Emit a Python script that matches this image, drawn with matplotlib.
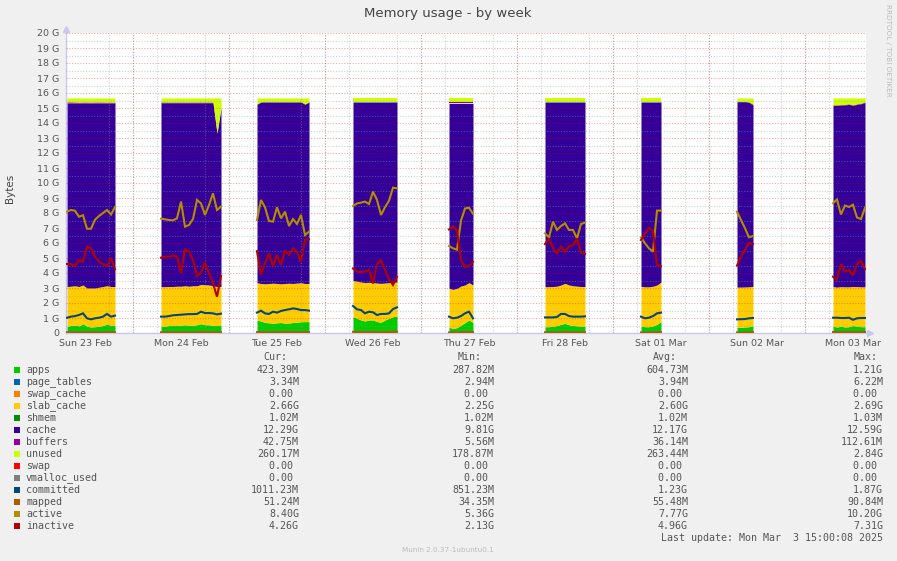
import matplotlib
matplotlib.use("Agg")
import matplotlib.pyplot as plt
import matplotlib.dates as mdates
from matplotlib.patches import Rectangle
import pandas as pd
import numpy as np

W, H = 897, 561

# ---------------- data (GB) ----------------
block_starts = ["2025-02-23 07:30", "2025-02-24 07:00", "2025-02-25 07:00",
                "2025-02-26 07:00", "2025-02-27 07:00", "2025-02-28 07:00",
                "2025-03-01 07:00", "2025-03-02 07:00", "2025-03-03 07:00"]
sample_hours = 1.0

apps = [
    [0.45, 0.50, 0.52, 0.48, 0.62, 0.45, 0.40, 0.42, 0.45, 0.50, 0.60, 0.50, 0.50],
    [0.45, 0.45, 0.50, 0.50, 0.50, 0.52, 0.55, 0.52, 0.52, 0.55, 0.62, 0.55, 0.55, 0.50, 0.50, 0.50],
    [0.85, 0.80, 0.70, 0.68, 0.65, 0.68, 0.70, 0.65, 0.66, 0.70, 0.72, 0.75, 0.76, 0.76],
    [1.09, 0.98, 0.87, 0.80, 0.87, 0.87, 0.76, 0.72, 0.87, 0.98, 1.09, 1.13],
    [0.38, 0.31, 0.36, 0.53, 0.69, 0.87, 0.70],
    [0.42, 0.42, 0.45, 0.50, 0.58, 0.64, 0.55, 0.50, 0.48, 0.45, 0.45],
    [0.45, 0.42, 0.42, 0.47, 0.58, 0.76],
    [0.38, 0.38, 0.40, 0.42, 0.47],
    [0.45, 0.40, 0.45, 0.40, 0.42, 0.50, 0.45, 0.42, 0.42],
]
slab_cache = [
    [2.65, 2.62, 2.63, 2.62, 2.58, 2.55, 2.60, 2.58, 2.60, 2.60, 2.55, 2.60, 2.60],
    [2.64, 2.64, 2.60, 2.60, 2.62, 2.60, 2.60, 2.60, 2.63, 2.60, 2.62, 2.67, 2.65, 2.65, 2.60, 2.60],
    [2.50, 2.50, 2.58, 2.62, 2.67, 2.62, 2.58, 2.65, 2.66, 2.60, 2.61, 2.60, 2.54, 2.54],
    [2.41, 2.47, 2.53, 2.56, 2.51, 2.49, 2.57, 2.59, 2.46, 2.38, 2.29, 2.27],
    [2.60, 2.60, 2.62, 2.60, 2.51, 2.49, 2.50],
    [2.67, 2.67, 2.65, 2.62, 2.62, 2.67, 2.65, 2.65, 2.64, 2.65, 2.65],
    [2.66, 2.66, 2.66, 2.65, 2.62, 2.64],
    [2.68, 2.68, 2.67, 2.66, 2.64],
    [2.64, 2.66, 2.64, 2.68, 2.66, 2.60, 2.64, 2.66, 2.66],
]
cache = [
    [12.23, 12.21, 12.18, 12.23, 12.13, 12.33, 12.33, 12.33, 12.28, 12.23, 12.18, 12.23, 12.23],
    [12.26, 12.26, 12.25, 12.25, 12.23, 12.23, 12.20, 12.23, 12.20, 12.20, 12.11, 12.13, 12.15, 12.20, 10.20, 11.90],
    [11.90, 12.10, 12.12, 12.10, 12.08, 12.10, 12.12, 12.10, 12.08, 12.10, 12.07, 12.05, 11.95, 12.10],
    [11.90, 11.95, 12.00, 12.04, 12.02, 12.04, 12.07, 12.09, 12.07, 12.04, 12.02, 12.00],
    [12.33, 12.40, 12.33, 12.18, 12.11, 11.95, 12.11],
    [12.31, 12.31, 12.30, 12.28, 12.20, 12.09, 12.20, 12.25, 12.28, 12.30, 12.30],
    [12.29, 12.32, 12.32, 12.28, 12.20, 12.00],
    [12.36, 12.36, 12.35, 12.30, 12.09],
    [12.08, 12.11, 12.10, 12.13, 12.16, 12.07, 12.15, 12.20, 12.29],
]
buffers = [
    [0.08, 0.08, 0.07, 0.06, 0.07, 0.07, 0.06, 0.07, 0.07, 0.07, 0.06, 0.06, 0.06],
    [0.05, 0.05, 0.05, 0.05, 0.05, 0.05, 0.05, 0.05, 0.05, 0.05, 0.05, 0.05, 0.05, 0.05, 0.05, 0.05],
    [0.02, 0.02, 0.02, 0.02, 0.02, 0.02, 0.02, 0.02, 0.02, 0.02, 0.02, 0.02, 0.02, 0.02],
    [0.02, 0.02, 0.02, 0.02, 0.02, 0.02, 0.02, 0.02, 0.02, 0.02, 0.02, 0.02],
    [0.10, 0.10, 0.10, 0.10, 0.10, 0.10, 0.10],
    [0.02, 0.02, 0.02, 0.02, 0.02, 0.02, 0.02, 0.02, 0.02, 0.02, 0.02],
    [0.02, 0.02, 0.02, 0.02, 0.02, 0.02],
    [0.02, 0.02, 0.02, 0.03, 0.05],
    [0.04, 0.04, 0.04, 0.04, 0.04, 0.04, 0.04, 0.04, 0.04],
]
unused = [
    [0.26, 0.26, 0.27, 0.28, 0.27, 0.27, 0.28, 0.27, 0.27, 0.27, 0.28, 0.28, 0.28],
    [0.27, 0.27, 0.27, 0.27, 0.27, 0.27, 0.27, 0.27, 0.27, 0.27, 0.27, 0.27, 0.27, 0.27, 2.32, 0.62],
    [0.40, 0.25, 0.25, 0.25, 0.25, 0.25, 0.25, 0.25, 0.25, 0.25, 0.25, 0.25, 0.40, 0.25],
    [0.25, 0.25, 0.25, 0.25, 0.25, 0.25, 0.25, 0.25, 0.25, 0.25, 0.25, 0.25],
    [0.26, 0.26, 0.26, 0.26, 0.26, 0.26, 0.26],
    [0.25, 0.25, 0.25, 0.25, 0.25, 0.25, 0.25, 0.25, 0.25, 0.25, 0.25],
    [0.25, 0.25, 0.25, 0.25, 0.25, 0.25],
    [0.23, 0.23, 0.23, 0.26, 0.42],
    [0.46, 0.46, 0.44, 0.42, 0.39, 0.46, 0.39, 0.35, 0.26],
]
committed = [
    [1.02, 1.09, 1.13, 1.20, 1.31, 0.98, 0.91, 0.98, 1.02, 1.09, 1.27, 1.09, 1.16],
    [1.09, 1.09, 1.13, 1.18, 1.20, 1.22, 1.24, 1.26, 1.26, 1.27, 1.42, 1.33, 1.33, 1.31, 1.24, 1.29],
    [1.36, 1.49, 1.31, 1.27, 1.42, 1.36, 1.47, 1.53, 1.58, 1.64, 1.60, 1.53, 1.53, 1.49],
    [1.80, 1.58, 1.53, 1.31, 1.42, 1.38, 1.20, 1.27, 1.27, 1.31, 1.60, 1.71],
    [1.09, 0.98, 1.02, 1.13, 1.31, 1.42, 0.98],
    [1.04, 1.04, 1.04, 1.07, 1.27, 1.27, 1.13, 1.09, 1.09, 1.09, 1.11],
    [1.09, 0.98, 1.02, 1.13, 1.31, 1.36],
    [0.91, 0.92, 0.93, 0.98, 1.00],
    [1.02, 1.02, 1.00, 1.00, 1.02, 0.88, 0.98, 1.00, 1.00],
]
mapped = [
    [0.05, 0.05, 0.05, 0.05, 0.06, 0.05, 0.05, 0.05, 0.05, 0.05, 0.06, 0.05, 0.05],
    [0.05, 0.05, 0.05, 0.05, 0.05, 0.06, 0.06, 0.05, 0.05, 0.06, 0.06, 0.05, 0.05, 0.05, 0.05, 0.05],
    [0.06, 0.06, 0.05, 0.05, 0.05, 0.05, 0.06, 0.06, 0.06, 0.06, 0.06, 0.06, 0.06, 0.06],
    [0.08, 0.07, 0.06, 0.06, 0.06, 0.06, 0.05, 0.05, 0.06, 0.07, 0.08, 0.08],
    [0.04, 0.04, 0.04, 0.05, 0.06, 0.07, 0.05],
    [0.05, 0.05, 0.05, 0.05, 0.06, 0.06, 0.05, 0.05, 0.05, 0.05, 0.05],
    [0.04, 0.04, 0.04, 0.05, 0.06, 0.06],
    [0.04, 0.04, 0.04, 0.05, 0.05],
    [0.05, 0.05, 0.05, 0.05, 0.05, 0.05, 0.05, 0.05, 0.05],
]
active = [
    [8.10, 8.20, 8.15, 7.75, 7.85, 6.95, 6.95, 7.55, 7.80, 8.00, 8.20, 7.90, 8.40],
    [7.62, 7.58, 7.53, 7.51, 7.64, 8.76, 7.09, 7.20, 7.60, 8.87, 8.64, 7.87, 8.53, 9.31, 8.20, 8.42],
    [7.53, 8.87, 8.38, 7.47, 7.42, 8.38, 7.64, 8.09, 7.13, 7.60, 7.27, 7.87, 6.53, 6.76],
    [8.47, 8.64, 8.69, 8.76, 8.60, 9.42, 8.87, 7.87, 8.38, 8.82, 9.69, 9.64],
    [5.80, 5.65, 5.55, 7.50, 8.30, 8.35, 7.95],
    [6.64, 6.38, 7.42, 6.87, 7.13, 7.31, 6.87, 6.87, 6.31, 7.27, 7.36],
    [6.38, 5.98, 5.64, 5.42, 8.16, 8.16],
    [8.09, 7.53, 6.98, 6.38, 6.47],
    [8.65, 8.90, 7.90, 8.50, 8.40, 8.55, 7.70, 7.60, 8.35],
]
inactive = [
    [4.60, 4.60, 4.45, 4.85, 4.75, 5.75, 5.65, 5.10, 4.75, 4.60, 4.45, 5.00, 4.25],
    [5.02, 5.09, 5.09, 5.16, 5.09, 3.98, 5.58, 5.42, 4.87, 3.80, 4.02, 4.69, 3.98, 3.31, 2.42, 3.80],
    [5.45, 3.90, 4.65, 5.30, 4.45, 5.20, 4.55, 5.50, 5.20, 5.65, 5.40, 4.75, 6.20, 6.25],
    [4.30, 4.10, 4.05, 4.10, 4.20, 3.30, 4.60, 4.85, 4.20, 3.60, 3.20, 3.75],
    [6.90, 7.10, 6.85, 4.85, 4.40, 4.45, 4.75],
    [5.93, 6.31, 5.64, 5.31, 5.76, 5.42, 5.76, 5.87, 6.31, 5.36, 5.27],
    [6.20, 6.60, 7.00, 6.80, 4.55, 4.45],
    [4.49, 5.09, 5.53, 6.02, 5.93],
    [3.75, 3.55, 4.60, 4.10, 4.20, 3.85, 4.60, 4.80, 4.25],
]

legend_names = ["apps", "page_tables", "swap_cache", "slab_cache", "shmem", "cache",
                "buffers", "unused", "swap", "vmalloc_used", "committed", "mapped",
                "active", "inactive"]
legend_colors = ["#00CC00", "#0066B3", "#FF8000", "#FFCC00", "#008F00", "#330099",
                 "#990099", "#CCFF00", "#FF0000", "#808080", "#00487D", "#B35A00",
                 "#B38F00", "#B30000"]
cur_vals = ["423.39M", "3.34M", "0.00 ", "2.66G", "1.02M", "12.29G", "42.75M",
            "260.17M", "0.00 ", "0.00 ", "1011.23M", "51.24M", "8.40G", "4.26G"]
min_vals = ["287.82M", "2.94M", "0.00 ", "2.25G", "1.02M", "9.81G", "5.56M",
            "178.87M", "0.00 ", "0.00 ", "851.23M", "34.35M", "5.36G", "2.13G"]
avg_vals = ["604.73M", "3.94M", "0.00 ", "2.60G", "1.02M", "12.17G", "36.14M",
            "263.44M", "0.00 ", "0.00 ", "1.23G", "55.48M", "7.77G", "4.96G"]
max_vals = ["1.21G", "6.22M", "0.00 ", "2.69G", "1.03M", "12.59G", "112.61M",
            "2.84G", "0.00 ", "0.00 ", "1.87G", "90.84M", "10.20G", "7.31G"]

y_ticks = list(range(0, 21))
x_start, x_end = "2025-02-23 07:15", "2025-03-03 15:15"

# ---------------- figure ----------------
colors = dict(zip(legend_names, legend_colors))
fig = plt.figure(figsize=(W / 100, H / 100), dpi=100, facecolor="#F0F0F0")
ax = fig.add_axes([66 / W, 1 - 333 / H, 800 / W, 300 / H])
ax.set_facecolor("white")

for bi, start in enumerate(block_starts):
    n = len(apps[bi])
    t = pd.date_range(start, periods=n, freq=f"{int(sample_hours*60)}min")
    x = mdates.date2num(t.to_pydatetime())
    base = np.zeros(n)
    for name, series in [("apps", apps), ("slab_cache", slab_cache), ("cache", cache),
                         ("buffers", buffers), ("unused", unused)]:
        v = np.array(series[bi])
        ax.fill_between(x, base, base + v, color=colors[name], lw=0, zorder=1)
        base = base + v
    for name, series in [("committed", committed), ("mapped", mapped),
                         ("active", active), ("inactive", inactive)]:
        ax.plot(x, series[bi], color=colors[name], lw=1.5, zorder=3,
                solid_joinstyle="miter")

# axes limits
ax.set_xlim(mdates.date2num(pd.Timestamp(x_start)), mdates.date2num(pd.Timestamp(x_end)))
ax.set_ylim(0, 20)

# y ticks & grid
ax.set_yticks(y_ticks)
ax.set_yticklabels([f"{v} G" if v else "0" for v in y_ticks])
ax.set_yticks(np.arange(0.5, 20, 1.0), minor=True)
grid_gray = dict(color="#999999", alpha=0.45, linestyle=(0, (1, 1.5)), lw=0.8)
grid_red = dict(color="#E00000", alpha=0.35, linestyle=(0, (1, 1.5)), lw=0.8)
ax.yaxis.grid(True, which="minor", **grid_gray)
ax.yaxis.grid(True, which="major", **grid_red)

# x ticks (labels at noon), minor grid every 6h, red lines at midnight
noons = pd.date_range("2025-02-23 12:00", periods=9, freq="D")
ax.set_xticks(mdates.date2num(noons.to_pydatetime()))
ax.set_xticklabels([d.strftime("%a %d %b") for d in noons])
six = pd.date_range("2025-02-23 12:00", "2025-03-03 12:00", freq="6h")
ax.set_xticks(mdates.date2num(six.to_pydatetime()), minor=True)
ax.xaxis.grid(True, which="minor", **grid_gray)
ax.xaxis.grid(False, which="major")
for d in pd.date_range("2025-02-24", periods=8, freq="D"):
    ax.axvline(mdates.date2num(d), zorder=2.5, **grid_red)
ax.set_axisbelow(False)

ax.tick_params(axis="both", which="both", length=0, labelsize=6.8, labelcolor="#555555")
ax.tick_params(axis="y", pad=5)
ax.tick_params(axis="x", pad=4)
for s in ["top", "right"]:
    ax.spines[s].set_visible(False)
for s in ["left", "bottom"]:
    ax.spines[s].set_color("#C8C8F0")
    ax.spines[s].set_linewidth(1.0)
ax.plot([0], [1.015], marker="^", color="#C8C8F0", ms=4, transform=ax.transAxes, clip_on=False)
ax.plot([1.005], [0], marker=">", color="#C8C8F0", ms=4, transform=ax.transAxes, clip_on=False)

# texts
def fx(px):
    return px / W

def fy(py):
    return 1 - py / H

txt = "#444444"
fig.text(fx(448), fy(13), "Memory usage - by week", ha="center", va="center",
         fontsize=9.5, color=txt)
fig.text(fx(10), fy(188), "Bytes", rotation=90, ha="center", va="center",
         fontsize=7.5, color=txt)
fig.text(fx(888), fy(50), "RRDTOOL / TOBI OETIKER", rotation=270, ha="center",
         va="center", fontsize=5.2, color="#BBBBBB")

mono = dict(family="DejaVu Sans Mono", fontsize=7.2, color="#555555")
fig.text(fx(263), fy(357.5), "Cur:", ha="left", va="center", **mono)
fig.text(fx(458), fy(357.5), "Min:", ha="left", va="center", **mono)
fig.text(fx(653), fy(357.5), "Avg:", ha="left", va="center", **mono)
fig.text(fx(854), fy(357.5), "Max:", ha="left", va="center", **mono)
for i, name in enumerate(legend_names):
    yc = 369.7 + 12 * i
    fig.add_artist(Rectangle((fx(14), fy(yc + 3)), 6 / W, 6 / H,
                             transform=fig.transFigure, color=legend_colors[i], lw=0))
    fig.text(fx(26), fy(yc), name, ha="left", va="center", **mono)
    fig.text(fx(299), fy(yc), cur_vals[i], ha="right", va="center", **mono)
    fig.text(fx(494), fy(yc), min_vals[i], ha="right", va="center", **mono)
    fig.text(fx(688), fy(yc), avg_vals[i], ha="right", va="center", **mono)
    fig.text(fx(883), fy(yc), max_vals[i], ha="right", va="center", **mono)
fig.text(fx(883), fy(538), "Last update: Mon Mar  3 15:00:08 2025", ha="right",
         va="center", **mono)
fig.text(fx(448), fy(550), "Munin 2.0.37-1ubuntu0.1", ha="center", va="center",
         fontsize=5.2, color="#BBBBBB")

fig.savefig("out.png", dpi=100, facecolor=fig.get_facecolor())
